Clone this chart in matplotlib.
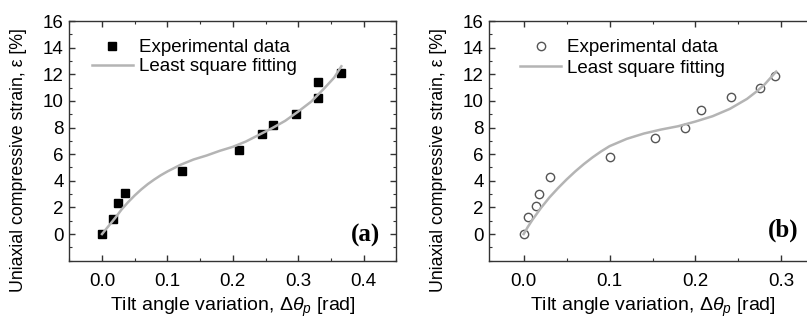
import numpy as np
import matplotlib
matplotlib.use('Agg')
import matplotlib.pyplot as plt
from matplotlib.ticker import MultipleLocator

plt.rcParams['font.family'] = ['Liberation Sans', 'DejaVu Sans']
plt.rcParams['mathtext.fontset'] = 'custom'
plt.rcParams['mathtext.rm'] = 'Liberation Sans'
plt.rcParams['mathtext.it'] = 'Liberation Sans:italic'

# Panel (a) - experimental points
xA = [0.0, 0.017, 0.024, 0.035, 0.122, 0.209, 0.244, 0.262, 0.297, 0.331, 0.331, 0.366]
yA = [0.0, 1.1, 2.3, 3.1, 4.7, 6.3, 7.5, 8.2, 9.0, 11.4, 10.2, 12.1]
# Panel (a) - fitted curve
fitXA = [0.0, 0.01, 0.02, 0.03, 0.04, 0.05, 0.06, 0.07, 0.08, 0.09, 0.10, 0.12, 0.14, 0.16, 0.18,
         0.20, 0.22, 0.24, 0.26, 0.28, 0.30, 0.32, 0.34, 0.355, 0.366]
fitYA = [0.0, 0.6, 1.2, 1.85, 2.4, 2.9, 3.35, 3.75, 4.1, 4.42, 4.7, 5.2, 5.6, 5.9, 6.25,
         6.55, 6.95, 7.45, 7.95, 8.5, 9.2, 9.95, 10.95, 11.75, 12.6]

# Panel (b) - experimental points
xB = [0.0, 0.005, 0.014, 0.018, 0.031, 0.101, 0.153, 0.188, 0.206, 0.241, 0.275, 0.293]
yB = [0.0, 1.3, 2.1, 3.0, 4.3, 5.8, 7.2, 8.0, 9.3, 10.3, 11.0, 11.9]
# Panel (b) - fitted curve
fitXB = [0.0, 0.005, 0.01, 0.02, 0.03, 0.04, 0.05, 0.06, 0.07, 0.08, 0.09, 0.10, 0.12, 0.14, 0.16,
         0.18, 0.20, 0.22, 0.24, 0.26, 0.27, 0.28, 0.294]
fitYB = [0.0, 0.55, 1.05, 1.95, 2.75, 3.45, 4.1, 4.7, 5.25, 5.75, 6.2, 6.6, 7.15, 7.55, 7.85,
         8.1, 8.45, 8.85, 9.4, 10.15, 10.65, 11.2, 12.2]

xlabel = r'Tilt angle variation, $\mathit{Δθ_p}$ [rad]'
ylabel = 'Uniaxial compressive strain, \u03b5 [%]'
legendLabels = ['Experimental data', 'Least square fitting']

fig = plt.figure(figsize=(8.07, 3.23), dpi=100)
axA = fig.add_axes([69.3 / 807, 62.3 / 323, 327 / 807, 239.7 / 323])
axB = fig.add_axes([489.3 / 807, 62.3 / 323, 326.4 / 807, 239.7 / 323])

lineColor = '#b4b4b4'
spineColor = '#333333'


def styleAxes(ax, xlim, xticks):
    ax.set_xlim(*xlim)
    ax.set_ylim(-2, 16)
    ax.set_xticks(xticks)
    ax.set_yticks(np.arange(0, 17, 2))
    ax.xaxis.set_minor_locator(MultipleLocator(0.05))
    ax.yaxis.set_minor_locator(MultipleLocator(1))
    ax.tick_params(which='both', direction='in', top=True, right=True,
                   colors=spineColor, labelcolor='black', labelsize=13.5)
    ax.tick_params(which='major', length=4, width=1)
    ax.tick_params(which='minor', length=2.5, width=0.8)
    ax.tick_params(axis='x', pad=9)
    ax.tick_params(axis='y', pad=4)
    for s in ax.spines.values():
        s.set_color(spineColor)
        s.set_linewidth(1)
    ax.set_xlabel(xlabel, fontsize=14, labelpad=4)
    ax.set_ylabel(ylabel, fontsize=12.8)
    ax.yaxis.set_label_coords(-0.13, 0.42)


# Panel (a)
axA.plot(xA, yA, 's', color='black', markersize=5.8, label=legendLabels[0], zorder=2)
axA.plot(fitXA, fitYA, '-', color=lineColor, linewidth=1.8, label=legendLabels[1], zorder=3)
styleAxes(axA, (-0.05, 0.45), [0.0, 0.1, 0.2, 0.3, 0.4])
axA.legend(loc='upper left', bbox_to_anchor=(0.0685, 0.925), frameon=False, fontsize=13.5,
           handlelength=2.2, handletextpad=0.3, labelspacing=0.12, borderpad=0,
           borderaxespad=0)
axA.text(0.95, 0.107, '(a)', transform=axA.transAxes, ha='right', va='center',
         fontsize=18, fontweight='bold', family='Liberation Serif')

# Panel (b)
axB.plot(xB, yB, 'o', markerfacecolor='white', markeredgecolor='#555555',
         markeredgewidth=1, markersize=6, label=legendLabels[0], zorder=2)
axB.plot(fitXB, fitYB, '-', color=lineColor, linewidth=1.8, label=legendLabels[1], zorder=3)
styleAxes(axB, (-0.04, 0.34), [0.0, 0.1, 0.2, 0.3])
axB.legend(loc='upper left', bbox_to_anchor=(0.094, 0.925), frameon=False, fontsize=13.5,
           handlelength=2.2, handletextpad=0.3, labelspacing=0.18, borderpad=0,
           borderaxespad=0)
axB.text(0.948, 0.128, '(b)', transform=axB.transAxes, ha='right', va='center',
         fontsize=18, fontweight='bold', family='Liberation Serif')

fig.savefig('out.png', dpi=100)
